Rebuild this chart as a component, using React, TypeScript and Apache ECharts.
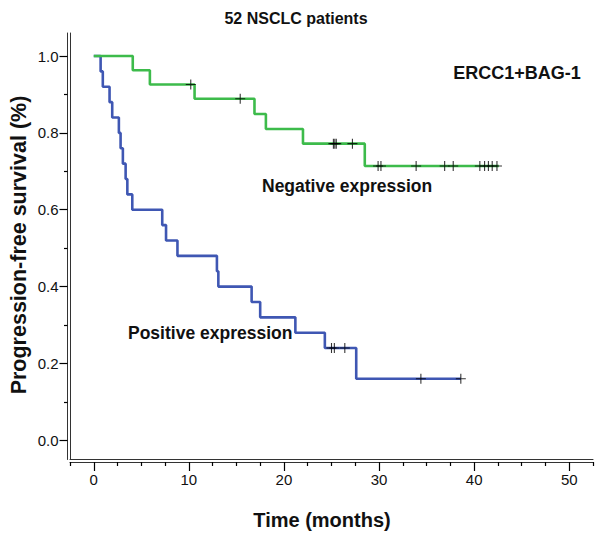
import React, { useEffect, useRef } from "react";
import * as echarts from "echarts";

// Kaplan–Meier steps: [time (months), survival after event]
const positiveSteps: [number, number][] = [
  [0, 1.0], [0.72, 0.96], [0.95, 0.92], [1.66, 0.88], [1.94, 0.84], [2.64, 0.8],
  [2.82, 0.76], [3.06, 0.72], [3.35, 0.68], [3.53, 0.64], [4.05, 0.6], [7.2, 0.56],
  [7.6, 0.52], [8.8, 0.48], [12.95, 0.44], [13.1, 0.4], [16.6, 0.36], [17.5, 0.32],
  [21.2, 0.28], [24.3, 0.24], [27.6, 0.16], [38.6, 0.16],
];
const positiveCensored: [number, number][] = [
  [25.0, 0.24], [25.3, 0.24], [26.4, 0.24], [34.4, 0.16], [38.6, 0.16],
];
const negativeSteps: [number, number][] = [
  [0, 1.0], [4.1, 0.963], [5.9, 0.926], [10.6, 0.889], [16.9, 0.849], [18.1, 0.81],
  [22.0, 0.772], [28.5, 0.714], [42.6, 0.714],
];
const negativeCensored: [number, number][] = [
  [10.2, 0.926], [15.4, 0.889], [25.2, 0.772], [25.35, 0.772], [25.5, 0.772], [27.2, 0.772],
  [29.9, 0.714], [30.2, 0.714], [33.9, 0.714], [36.9, 0.714], [37.8, 0.714],
  [40.6, 0.714], [41.1, 0.714], [41.5, 0.714], [41.9, 0.714], [42.4, 0.714],
];

const xMajorTicks = [0, 10, 20, 30, 40, 50];
const xMinorTicks = [-2.5, 2.5, 5, 7.5, 12.5, 15, 17.5, 22.5, 25, 27.5, 32.5, 35, 37.5, 42.5, 45, 47.5, 52.5];
const yMajorTicks = [0, 0.2, 0.4, 0.6, 0.8, 1.0];
const yMinorTicks = [0.1, 0.3, 0.5, 0.7, 0.9];

const titleText = "52 NSCLC patients";
const groupText = "ERCC1+BAG-1";
const negativeLabel = "Negative expression";
const positiveLabel = "Positive expression";
const xName = "Time (months)";
const yName = "Progression-free survival (%)";

const X_MIN = -2.5;
const X_MAX = 52.5;
const Y_MIN = -0.05;
const Y_MAX = 1.06;

const FONT = '"Liberation Sans", Arial, sans-serif';
const AXIS_COLOR = "#333";
const GREEN = "#3dbb4b";
const BLUE = "#3f57b3";
const CROSS = "path://M0,5.35H12V6.65H0Z M5.35,0H6.65V12H5.35Z";

export default function App() {
  const ref = useRef<HTMLDivElement>(null);

  useEffect(() => {
    if (!ref.current) return;
    const chart = echarts.init(ref.current, undefined, { renderer: "svg" });

    const lineStyle = { color: AXIS_COLOR, width: 1 };
    const tickStyle = { color: "#000", width: 1.2 };
    const base = { type: "value" as const, min: X_MIN, max: X_MAX, splitLine: { show: false } };
    const yBase = { type: "value" as const, min: Y_MIN, max: Y_MAX, splitLine: { show: false } };

    chart.setOption({
      animation: false,
      backgroundColor: "#fff",
      grid: { left: 70, right: 7, top: 33, bottom: 80.5, containLabel: false },
      xAxis: [
        { ...base, position: "bottom", offset: 0, axisLine: { show: true, onZero: false, lineStyle }, axisTick: { show: false }, axisLabel: { show: false } },
        {
          ...base, position: "bottom", offset: 2.5,
          axisLine: { show: true, onZero: false, lineStyle },
          axisTick: { show: true, length: 9, customValues: xMajorTicks, lineStyle: tickStyle },
          axisLabel: { show: true, customValues: xMajorTicks, margin: 10, fontSize: 15, fontFamily: FONT, color: "#111" },
        },
        {
          ...base, position: "bottom", offset: 2.5,
          axisLine: { show: false, onZero: false },
          axisTick: { show: true, length: 4, customValues: xMinorTicks, lineStyle: tickStyle },
          axisLabel: { show: false },
        },
      ],
      yAxis: [
        { ...yBase, position: "left", offset: 0, axisLine: { show: true, onZero: false, lineStyle }, axisTick: { show: false }, axisLabel: { show: false } },
        {
          ...yBase, position: "left", offset: 2.5,
          axisLine: { show: true, onZero: false, lineStyle },
          axisTick: { show: true, length: 8, customValues: yMajorTicks, lineStyle: tickStyle },
          axisLabel: { show: true, customValues: yMajorTicks, margin: 9, fontSize: 15, fontFamily: FONT, color: "#111", formatter: (v: number) => v.toFixed(1) },
        },
        {
          ...yBase, position: "left", offset: 2.5,
          axisLine: { show: false, onZero: false },
          axisTick: { show: true, length: 3.5, customValues: yMinorTicks, lineStyle: tickStyle },
          axisLabel: { show: false },
        },
      ],
      series: [
        {
          type: "line", name: positiveLabel, data: positiveSteps, step: "end",
          symbol: "none", lineStyle: { color: BLUE, width: 2.6 }, z: 2,
        },
        {
          type: "line", name: negativeLabel, data: negativeSteps, step: "end",
          symbol: "none", lineStyle: { color: GREEN, width: 2.6 }, z: 3,
        },
        {
          type: "scatter", data: [...positiveCensored, ...negativeCensored],
          symbol: CROSS, symbolSize: 10, itemStyle: { color: "#000" }, z: 4,
        },
      ],
      graphic: [
        { type: "text", x: 296, y: 18, style: { text: titleText, font: `bold 16px ${FONT}`, fill: "#111", align: "center", verticalAlign: "middle" } },
        { type: "text", x: 517, y: 73, style: { text: groupText, font: `bold 18px ${FONT}`, fill: "#111", align: "center", verticalAlign: "middle" } },
        { type: "text", x: 262, y: 186, style: { text: negativeLabel, font: `bold 17.5px ${FONT}`, fill: "#111", align: "left", verticalAlign: "middle" } },
        { type: "text", x: 128, y: 333, style: { text: positiveLabel, font: `bold 17.5px ${FONT}`, fill: "#111", align: "left", verticalAlign: "middle" } },
        { type: "text", x: 322, y: 520, style: { text: xName, font: `bold 20px ${FONT}`, fill: "#111", align: "center", verticalAlign: "middle" } },
        { type: "text", x: 19, y: 245, rotation: Math.PI / 2, style: { text: yName, font: `bold 21.5px ${FONT}`, fill: "#111", align: "center", verticalAlign: "middle" } },
      ],
    });

    return () => chart.dispose();
  }, []);

  return <div ref={ref} style={{ position: "absolute", left: 0, top: 0, width: 600, height: 540 }} />;
}
